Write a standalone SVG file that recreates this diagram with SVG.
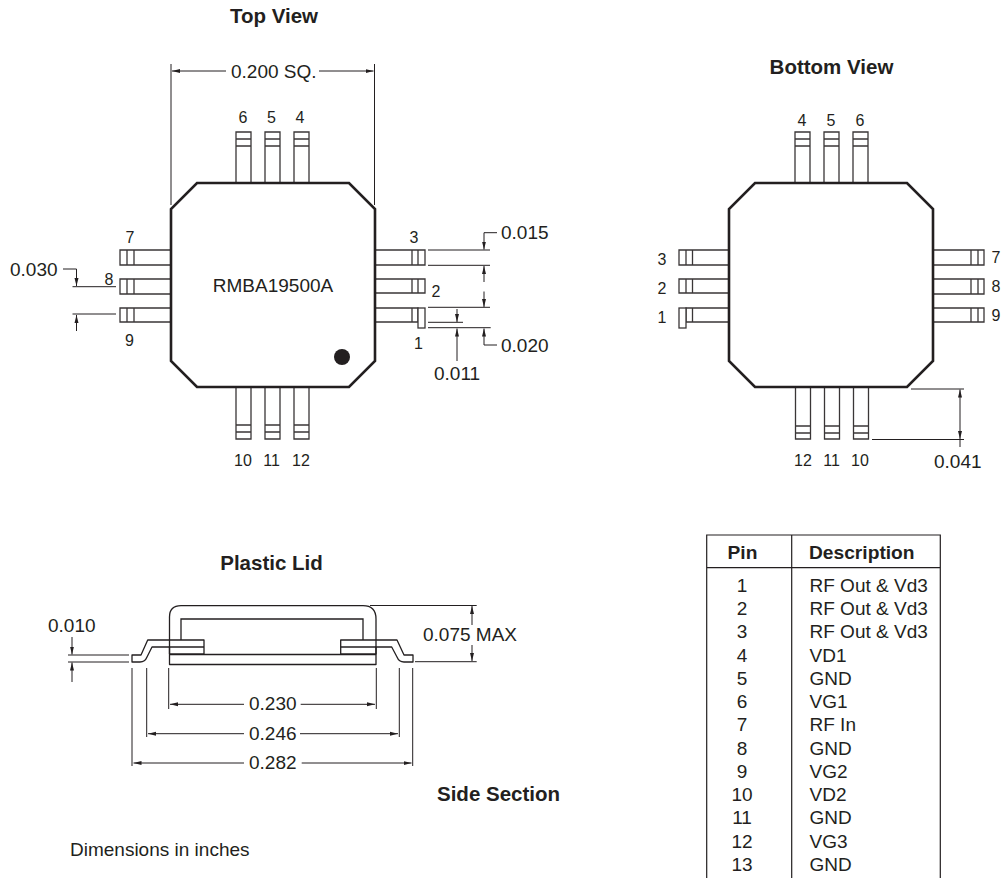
<svg xmlns="http://www.w3.org/2000/svg" width="1005" height="878" viewBox="0 0 1005 878">
<style>
text{font-family:"Liberation Sans",Arial,sans-serif;fill:#231f20;font-size:19px}
.b{font-weight:bold;font-size:20.5px}
.h{font-weight:bold;font-size:19.200px}
.p{font-size:16px}
.m{text-anchor:middle}
.body{fill:#fff;stroke:#231f20;stroke-width:2.6;stroke-linejoin:miter}
.pin{fill:#fff;stroke:#3a3637;stroke-width:1.3}
.l{fill:none;stroke:#231f20;stroke-width:1.3}
.d{fill:none;stroke:#231f20;stroke-width:1}
.s{fill:#fff;stroke:#231f20;stroke-width:1.3;stroke-linejoin:round}
.e{marker-end:url(#a)}
.t{fill:none;stroke:#231f20;stroke-width:1.2}
</style>
<defs>
<marker id="a" markerUnits="userSpaceOnUse" markerWidth="9" markerHeight="6" refX="8" refY="3" orient="auto"><path d="M0 1 L8 3 L0 5 Z" fill="#231f20"/></marker>
</defs>
<rect width="1005" height="878" fill="#fff"/>
<text class="b m" x="274" y="23">Top View</text>
<text class="b m" x="831.500" y="74">Bottom View</text>
<text class="b m" x="271.500" y="570">Plastic Lid</text>
<text class="b" x="437" y="800.700">Side Section</text>
<text x="70" y="856">Dimensions in inches</text>

<g id="top-view">
<path class="pin" d="M236 183V132H251V183M236 139H251M236 146H251M265 183V132H280V183M265 139H280M265 146H280M294 183V132H309V183M294 139H309M294 146H309"/>
<path class="pin" d="M236 387V439H251V387M236 425H251M236 432H251M265 387V439H280V387M265 425H280M265 432H280M294 387V439H309V387M294 425H309M294 432H309"/>
<path class="pin" d="M171 250H120V265H171M127 250V265M134 250V265M171 279H120V294H171M127 279V294M134 279V294M171 308H120V322H171M127 308V322M134 308V322"/>
<path class="pin" d="M375 250H425V265H375M412 250V265M418 250V265M375 279H425V293H375M412 279V293M418 279V293M375 308H418V322H375M412 308V322"/>
<rect class="pin" x="418" y="308" width="7" height="20"/>
<path class="body" d="M197 183H349L375 209V361L349 387H197L171 361V209Z"/>
<circle cx="342" cy="357" r="8" fill="#231f20"/>
<text class="m" x="273" y="292">RMBA19500A</text>
<text class="p m" x="243" y="123">6</text><text class="p m" x="271.500" y="123">5</text><text class="p m" x="300" y="123">4</text>
<text class="p m" x="243" y="466">10</text><text class="p m" x="271.500" y="466">11</text><text class="p m" x="301" y="466">12</text>
<text class="p m" x="130" y="242.700">7</text><text class="p m" x="109" y="285">8</text><text class="p m" x="129.500" y="346">9</text>
<text class="p m" x="414" y="243.300">3</text><text class="p m" x="436" y="296.700">2</text><text class="p m" x="418.500" y="349.300">1</text>
</g>

<g id="bottom-view">
<path class="pin" d="M795 183V132H810V183M795 139H810M795 146H810M824 183V132H839V183M824 139H839M824 146H839M853 183V132H868V183M853 139H868M853 146H868"/>
<path class="pin" d="M795.500 387V439H810.500V387M795.500 426H810.500M795.500 433H810.500M824.500 387V439H839.500V387M824.500 426H839.500M824.500 433H839.500M853.500 387V439H868.500V387M853.500 426H868.500M853.500 433H868.500"/>
<path class="pin" d="M729 250H679V265H729M686 250V265M692.500 250V265M729 279H679V293H729M686 279V293M692.500 279V293M729 308H686V322H729M692.500 308V322"/>
<rect class="pin" x="679" y="308" width="7" height="20"/>
<path class="pin" d="M933 250H984V265H933M971 250V265M978 250V265M933 279H984V294H933M971 279V294M978 279V294M933 308H984V322H933M971 308V322M978 308V322"/>
<path class="body" d="M755 183H907L933 209V361L907 387H755L729 361V209Z"/>
<text class="p m" x="802" y="126">4</text><text class="p m" x="831" y="126">5</text><text class="p m" x="860" y="126">6</text>
<text class="p m" x="803" y="466">12</text><text class="p m" x="831.500" y="466">11</text><text class="p m" x="860" y="466">10</text>
<text class="p m" x="662" y="265">3</text><text class="p m" x="662" y="294">2</text><text class="p m" x="662" y="323">1</text>
<text class="p m" x="996" y="263">7</text><text class="p m" x="996" y="292">8</text><text class="p m" x="996" y="321">9</text>
</g>

<g id="side-section">
<path class="s" d="M169.500 654.500H376V664.500H169.500Z"/>
<path class="s" d="M132 655H141L147.700 640H204V654H169.500V647H152L147 657Q145 662 140 662H132Z"/>
<path class="s" d="M413 655H404L397 640H340.700V654H376V647H391.700L397 657Q399 662 404 662H413Z"/>
<path class="l" d="M169.500 647H204M340.700 647H376"/>
<path class="l" d="M181 640V619H363V640M169.500 654V617Q169.500 605.700 181 605.700H363Q376 605.700 376 619V654"/>
</g>

<g id="connectors">
<path class="d" d="M171 64V205M374.500 64V205"/>
<path class="d e" d="M226 71H172"/><path class="d e" d="M319 71H373.500"/>
<text x="231" y="77.700">0.200 SQ.</text>

<text x="10" y="275.700">0.030</text>
<path class="d e" d="M63 269H76.500V286"/>
<path class="d" d="M72.500 286.700H116M72.500 314H116"/>
<path class="d e" d="M76.500 331V315"/>

<path class="d" d="M428 250H490M428 265.300H490M428 307.300H490M428 322.300H463M428 327.700H490.700"/>
<text x="501" y="239.300">0.015</text>
<path class="d e" d="M497 232.700H484V249.500"/>
<path class="d e" d="M484 282V266"/><path class="d e" d="M484 291.500V307"/>
<text x="501" y="351.700">0.020</text>
<path class="d e" d="M497 345H484V328.500"/>
<path class="d e" d="M457 309V322"/><path class="d e" d="M457 361V328.500"/>
<text x="434" y="380">0.011</text>

<path class="d" d="M911 389H964M872 439.500H964"/>
<path class="d e" d="M960 420V389.500"/><path class="d e" d="M960 420V439"/><path class="d" d="M960 439V447"/>
<text x="934" y="467.700">0.041</text>

<path class="d" d="M370 605.500H476.700M415 661.700H476.700"/>
<path class="d e" d="M472 625V606"/><path class="d e" d="M472 645V661"/>
<text x="423" y="640.700">0.075 MAX</text>

<path class="d" d="M68 655H129M68 662H129"/>
<path class="d e" d="M72 637V654.500"/><path class="d e" d="M72 682V662.500"/>
<text x="48" y="631.700">0.010</text>

<path class="d" d="M168.700 668V709M376.300 668V709M146.700 668V737M399.300 668V737M132 668V766M412.700 668V766"/>
<path class="d e" d="M244 704.300H170"/><path class="d e" d="M300.700 704.300H375"/>
<text x="249" y="710">0.230</text>
<path class="d e" d="M244 733.700H148"/><path class="d e" d="M300 733.700H398"/>
<text x="249" y="739.700">0.246</text>
<path class="d e" d="M244 763H133.500"/><path class="d e" d="M301.700 763H411.500"/>
<text x="249" y="769">0.282</text>
</g>

<g id="pin-table">
<path class="t" d="M706.700 878V535H940.300V878M791.700 535V878M706.700 567.700H940.300"/>
<text class="h m" x="742.500" y="559">Pin</text>
<text class="h" x="809" y="559">Description</text>
<g class="rows">
<text class="m" x="742" y="591.700">1</text><text x="809.500" y="591.700">RF Out &amp; Vd3</text>
<text class="m" x="742" y="615">2</text><text x="809.500" y="615">RF Out &amp; Vd3</text>
<text class="m" x="742" y="638.200">3</text><text x="809.500" y="638.200">RF Out &amp; Vd3</text>
<text class="m" x="742" y="661.500">4</text><text x="809.500" y="661.500">VD1</text>
<text class="m" x="742" y="684.700">5</text><text x="809.500" y="684.700">GND</text>
<text class="m" x="742" y="708">6</text><text x="809.500" y="708">VG1</text>
<text class="m" x="742" y="731.200">7</text><text x="809.500" y="731.200">RF In</text>
<text class="m" x="742" y="754.500">8</text><text x="809.500" y="754.500">GND</text>
<text class="m" x="742" y="777.700">9</text><text x="809.500" y="777.700">VG2</text>
<text class="m" x="742" y="801">10</text><text x="809.500" y="801">VD2</text>
<text class="m" x="742" y="824.200">11</text><text x="809.500" y="824.200">GND</text>
<text class="m" x="742" y="847.500">12</text><text x="809.500" y="847.500">VG3</text>
<text class="m" x="742" y="870.700">13</text><text x="809.500" y="870.700">GND</text>
</g>
</g>
</svg>
